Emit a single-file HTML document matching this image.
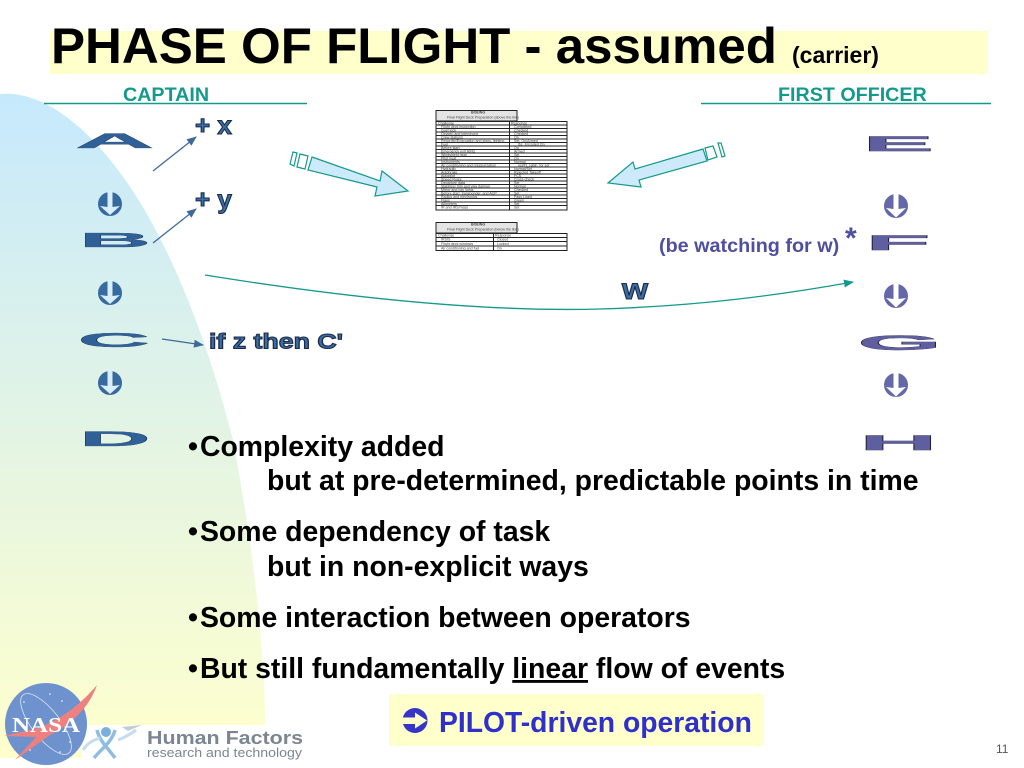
<!DOCTYPE html>
<html><head><meta charset="utf-8"><style>
html,body{margin:0;padding:0;background:#fff}
svg{display:block}
text{font-family:"Liberation Sans",sans-serif}
.b{font-size:28.400px;font-weight:bold;fill:#000}
.l{font-size:20px;font-weight:bold;fill:#2f6097;stroke:#14233f;stroke-width:1.100px;vector-effect:non-scaling-stroke;paint-order:stroke}
.r{font-size:20px;font-weight:bold;fill:#5f5f9f;stroke:#23233f;stroke-width:1.600px;vector-effect:non-scaling-stroke;paint-order:stroke}
.o{font-weight:bold;fill:#3a6ea5;stroke:#1c2b4a;stroke-width:1.100px}
.t text{font-size:3.600px;fill:#444}
</style></head><body>
<svg width="1024" height="768" viewBox="0 0 1024 768" xmlns="http://www.w3.org/2000/svg">
<defs>
<linearGradient id="g" x1="0" y1="0" x2="0" y2="1"><stop offset="0" stop-color="#c6e9fd"/><stop offset="1" stop-color="#ffffcc"/></linearGradient>
<marker id="mb" markerWidth="10" markerHeight="8" refX="9" refY="4" orient="auto" markerUnits="userSpaceOnUse"><path d="M0 0L10 4L0 8Z" fill="#3f6a97"/></marker>
<marker id="mt" markerWidth="10" markerHeight="8" refX="9" refY="4" orient="auto" markerUnits="userSpaceOnUse"><path d="M0 0L10 4L0 8Z" fill="#149a8c"/></marker>
<path id="da" d="M-2.500-13H2.500V3L10 2L0 11.500L-10 2L-2.500 3Z" fill="#fff"/>
<g id="dl"><circle r="12" fill="#376a9f"/><path d="M-2.500-13H2.500V3L10 2L0 11L-10 2L-2.500 3Z" fill="#d9eefa"/></g>
<g id="dr"><circle r="12" fill="#6468a8"/><use href="#da"/></g>
</defs>
<rect width="1024" height="768" fill="#fff"/>
<path d="M0 94C45 90 88 130 118 170C165 232 205 330 233 440C250 530 265 640 265 725H82V758H0Z" fill="url(#g)"/>
<rect x="50" y="31" width="938" height="43" fill="#ffffcc"/>
<text x="51" y="63" font-size="50" font-weight="bold" textLength="726" lengthAdjust="spacingAndGlyphs">PHASE OF FLIGHT - assumed</text>
<text x="792" y="63" font-size="23" font-weight="bold" fill="#000">(carrier)</text>
<text x="123" y="101" font-size="19.700" font-weight="bold" fill="#149a8c">CAPTAIN</text>
<text x="778" y="101" font-size="19.700" font-weight="bold" fill="#149a8c">FIRST OFFICER</text>
<path d="M44 103.500H307M701 103.500H991" stroke="#149a8c" stroke-width="1.500"/>

<!-- left letters -->
<text class="l" transform="translate(75,148) scale(5.500,1.040)">A</text>
<text class="l" transform="translate(79.300,247) scale(4.960,1.040)">B</text>
<text class="l" transform="translate(77.800,347) scale(5,1.030)">C</text>
<text class="l" transform="translate(79.300,446) scale(4.940,1.040)">D</text>
<use href="#dl" x="110" y="204"/><use href="#dl" x="110" y="293"/><use href="#dl" x="110" y="383"/>

<!-- right letters -->
<text class="r" transform="translate(863,151) scale(5.300,1.040)">E</text>
<text class="r" transform="translate(865.800,250) scale(5.280,1.040)">F</text>
<text class="r" transform="translate(857.600,350) scale(5.400,1.040)">G</text>
<text class="r" transform="translate(859.600,450) scale(5.370,1.040)">H</text>
<use href="#dr" x="896" y="206"/><use href="#dr" x="896" y="296"/><use href="#dr" x="896" y="385"/>

<!-- small arrows -->
<path d="M153 171L196 137" stroke="#3f6a97" stroke-width="1.300" fill="none" marker-end="url(#mb)"/>
<path d="M153 243L196 209" stroke="#3f6a97" stroke-width="1.300" fill="none" marker-end="url(#mb)"/>
<path d="M162 339L203 345" stroke="#3f6a97" stroke-width="1.300" fill="none" marker-end="url(#mb)"/>
<text class="o" x="195" y="134" font-size="26">+ x</text>
<text class="o" x="195" y="208" font-size="26">+ y</text>
<text class="o" x="209" y="348.500" font-size="21.500" textLength="134" lengthAdjust="spacingAndGlyphs">if z then C'</text>
<text class="o" x="622" y="299" font-size="30" textLength="26" lengthAdjust="spacingAndGlyphs">w</text>

<!-- curve -->
<path d="M205 275C360 300 490 312 600 309C700 306 780 295 853 282" stroke="#149a8c" stroke-width="1.300" fill="none" marker-end="url(#mt)"/>

<!-- big block arrows -->
<g fill="#cdeafb" stroke="#149a8c" stroke-width="1.200">
<path d="M312 157L380 181L382 171L408 191L375 196L377 187L308 170Z"/>
<path d="M300 154L308 156L305 169L297 167Z" fill="#fff"/>
<path d="M293 152L297 153L294 166L290 164Z" fill="#fff"/>
<path d="M703 149L635 169L633 162L608 183L641 187L639 180L707 161Z"/>
<path d="M705 148L713 146L717 157L708 160Z" fill="#fff"/>
<path d="M718 143L721 143L725 156L722 157Z" fill="#fff"/>
</g>

<!-- mini tables -->
<g stroke="#222" fill="none">
<rect x="436" y="110.500" width="81" height="10.500" fill="#e4e4e4"/>
<rect x="436" y="121.500" width="131" height="88.500" stroke-width="1"/>
<path d="M509.500 121.500V210" stroke-width="1"/>
<path d="M436 125H567M436 128.500H567M436 132H567M436 135.500H567M436 139H567M436 142.500H567M436 146H567M436 149.500H567M436 153H567M436 156.500H567M436 160H567M436 163.500H567M436 167H567M436 170.500H567M436 174H567M436 177.500H567M436 181H567M436 184.500H567M436 188H567M436 191.500H567M436 195H567M436 198.500H567M436 202H567M436 205.500H567" stroke-width="1"/>
<rect x="436" y="222.500" width="81" height="10.500" fill="#e4e4e4"/>
<rect x="436" y="233.500" width="131" height="17"/>
<path d="M493.500 233.500V250.500M436 237.500H567M436 241.500H567M436 246H567" stroke-width="1"/>
</g>
<g class="t">
<text x="471" y="113.500" font-weight="bold">BOEING</text>
<text x="447" y="118.500">Final Flight Deck Preparation (above the line)</text>
<text x="471" y="225.500" font-weight="bold">BOEING</text>
<text x="447" y="230.500">Final Flight Deck Preparation (below the line)</text>
<text x="438" y="124.500">Challenge</text><text x="511" y="124.500">Response</text>
<text x="441" y="128">Flight deck inspection</text><text x="514" y="128">Completed</text>
<text x="441" y="131.500">Gust lock</text><text x="514" y="131.500">Checked</text>
<text x="441" y="135">Oxygen and interphone</text><text x="514" y="135">Checked</text>
<text x="441" y="138.500">Crew stations</text><text x="514" y="138.500">On</text>
<text x="441" y="142">Recorder/Evacuation and signs, lighting</text><text x="514" y="142">Set, On/Armed</text>
<text x="441" y="145.500">Fuel</text><text x="514" y="145.500">__lbs, Encoded On</text>
<text x="441" y="149">Before start</text><text x="514" y="149">On</text>
<text x="441" y="152.500">Emergency exit lights</text><text x="514" y="152.500">Armed</text>
<text x="441" y="156">Windshield heat</text><text x="514" y="156">Set</text>
<text x="441" y="159.500">Pitot heat</text><text x="514" y="159.500">On</text>
<text x="441" y="163">Instruments</text><text x="514" y="163">Normal</text>
<text x="441" y="166.500">Air conditioning and pressurization</text><text x="514" y="166.500">__psi/Ft. cabin, for set</text>
<text x="441" y="170">Hydraulic</text><text x="514" y="170">Normal/Set</text>
<text x="441" y="173.500">Autobrake</text><text x="514" y="173.500">Rejected Takeoff</text>
<text x="441" y="177">Autopilot</text><text x="514" y="177">FCS</text>
<text x="441" y="180.500">Speed Rules</text><text x="514" y="180.500">Cross-check</text>
<text x="441" y="184">Departure data</text><text x="514" y="184">Set</text>
<text x="441" y="187.500">Stabilizer trim and yaw damper</text><text x="514" y="187.500">Normal</text>
<text x="441" y="191">Mirror and nav lights</text><text x="514" y="191">Checked</text>
<text x="441" y="194.500">Before start, transponder, and ACP</text><text x="514" y="194.500">Set</text>
<text x="441" y="198">Radios and electronics</text><text x="514" y="198">Pass Lined</text>
<text x="441" y="201.500">Flaps</text><text x="514" y="201.500">Green</text>
<text x="441" y="205">Altimeters</text><text x="514" y="205">Set</text>
<text x="441" y="208.500">IR and IRS/mass</text><text x="514" y="208.500">Set</text>
<text x="438" y="236.500">Challenge</text><text x="495" y="236.500">Response</text>
<text x="441" y="240.500">IRSIS</text><text x="497" y="240.500">Closed</text>
<text x="441" y="245">Flight deck windows</text><text x="497" y="245">Locked</text>
<text x="441" y="249.500">Air conditioning and fuel</text><text x="497" y="249.500">On</text>
</g>

<text x="659" y="252" font-size="19.800" font-weight="bold" fill="#4f4f9f">(be watching for w)</text>
<text x="845" y="248" font-size="30" font-weight="bold" fill="#4f4f9f">*</text>

<!-- bullets -->
<text class="b" x="188" y="456">•<tspan dx="2">Complexity added</tspan></text>
<text class="b" x="267" y="490">but at pre-determined, predictable points in time</text>
<text class="b" x="188" y="541">•<tspan dx="2">Some dependency of task</tspan></text>
<text class="b" x="267" y="576">but in non-explicit ways</text>
<text class="b" x="188" y="627">•<tspan dx="2">Some interaction between operators</tspan></text>
<text class="b" x="188" y="678">•<tspan dx="2">But still fundamentally </tspan><tspan text-decoration="underline">linear</tspan> flow of events</text>

<rect x="389" y="694" width="375" height="52" fill="#ffffcc"/>
<circle cx="415" cy="720.500" r="12.500" fill="#3535c8"/>
<path d="M401 717.500H415V712.500L427 720.500L415 728.500V724H401Z" fill="#ffffcc"/>
<text x="439" y="732" font-size="28.300" font-weight="bold" fill="#2f2fcc">PILOT-driven operation</text>

<!-- NASA + HF logo -->
<rect x="82" y="725" width="228" height="43" fill="#fff"/>
<circle cx="46" cy="724" r="41" fill="#6e92cd"/>
<ellipse cx="46" cy="724" rx="37" ry="14" transform="rotate(52 46 724)" fill="none" stroke="#dde6f5" stroke-width=".8"/>
<path d="M97 685C80 705 60 720 38 728L4 736L36 737L15 760L50 735C75 722 90 705 97 685Z" fill="#ee8080"/>
<g fill="#fff"><circle cx="50" cy="694" r=".8"/><circle cx="62" cy="701" r=".8"/><circle cx="24" cy="702" r=".8"/><circle cx="30" cy="750" r=".8"/><circle cx="60" cy="752" r=".8"/><circle cx="70" cy="742" r=".8"/></g>
<text x="12" y="732" font-size="21" font-weight="bold" fill="#fff" style="font-family:'Liberation Serif',serif" textLength="68" lengthAdjust="spacingAndGlyphs">NASA</text>
<circle cx="106" cy="732" r="5" fill="#7bb0dc"/>
<path d="M97 730C100 742 108 748 115 758M115 730C112 742 102 748 94 758" stroke="#8fbde2" stroke-width="3.500" fill="none"/>
<path d="M83 750C88 742 94 740 100 738M118 740C126 737 132 733 136 730" stroke="#c5dcef" stroke-width="3" fill="none"/>
<path d="M122 727L142 725L128 731Z" fill="#c4ccd4"/>
<text x="147" y="744" font-size="18" font-weight="bold" fill="#7c8690" textLength="156" lengthAdjust="spacingAndGlyphs">Human Factors</text>
<text x="147" y="757" font-size="13" fill="#7c8690" textLength="155" lengthAdjust="spacingAndGlyphs">research and technology</text>
<text x="996" y="753" font-size="12" fill="#555">11</text>
</svg>
</body></html>
